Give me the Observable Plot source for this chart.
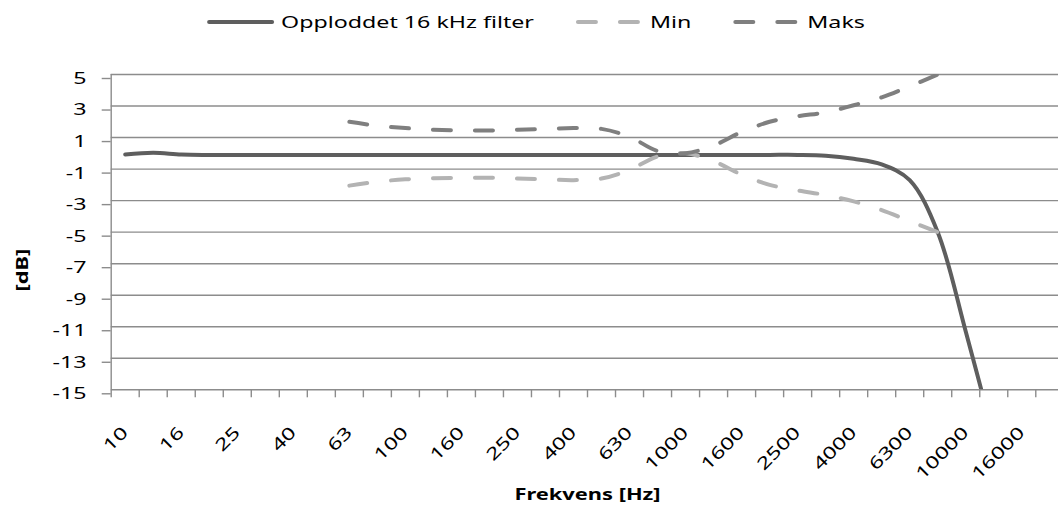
<!DOCTYPE html>
<html>
<head>
<meta charset="utf-8">
<script src="https://cdn.jsdelivr.net/npm/d3@7"></script>
<script src="https://cdn.jsdelivr.net/npm/@observablehq/plot@0.6"></script>
<style>
  html, body { margin: 0; padding: 0; background: #fff; overflow: hidden; width: 1058px; height: 509px; }
  svg { display: block; }
</style>
</head>
<body>
<div id="root"></div>
<script>
// ---- data ----
const freqLabels = ["10","12.5","16","20","25","31.5","40","50","63","80","100","125","160","200","250","315","400","500","630","800","1000","1250","1600","2000","2500","3150","4000","5000","6300","8000","10000","12500","16000","20000"];
const tickLabels = ["10","16","25","40","63","100","160","250","400","630","1000","1600","2500","4000","6300","10000","16000"];
const yTicks = [-15,-13,-11,-9,-7,-5,-3,-1,1,3,5];
const seriesNames = ["Opploddet 16 kHz filter", "Min", "Maks"];
const filterDb = [-0.08,0.03,-0.08,-0.1,-0.1,-0.1,-0.1,-0.1,-0.1,-0.1,-0.1,-0.1,-0.1,-0.1,-0.1,-0.1,-0.1,-0.1,-0.1,-0.1,-0.1,-0.1,-0.1,-0.1,-0.1,-0.15,-0.35,-0.7,-1.7,-5.0,-11.3,-18.0,null,null];
const minDb = [null,null,null,null,null,null,null,null,-2.05,-1.8,-1.65,-1.58,-1.55,-1.55,-1.6,-1.65,-1.7,-1.6,-1.05,-0.2,0,-0.5,-1.35,-2.0,-2.35,-2.65,-3.05,-3.6,-4.3,-5.0,null,null,null,null];
const maxDb = [null,null,null,null,null,null,null,null,2.0,1.75,1.6,1.5,1.45,1.45,1.5,1.55,1.6,1.55,1.05,0.15,0,0.5,1.35,2.0,2.35,2.6,3.05,3.55,4.25,5.0,null,null,null,null];

// ---- styles ----
const FONT = "'Noto Sans', 'Open Sans', sans-serif";
const K = 1.365; // horizontal text stretch
const FS = 17;
const GRID = "#8c8c8c";
const styles = [
  {name: seriesNames[0], values: filterDb, color: "#5e5e5e", dash: null},
  {name: seriesNames[1], values: minDb, color: "#b3b3b3", dash: "18,24"},
  {name: seriesNames[2], values: maxDb, color: "#7f7f7f", dash: "18,24"}
];

// stretch text along its own direction, keeping its anchor in place
function stretch(root, k) {
  root.querySelectorAll("text").forEach(t => {
    const w = t.getComputedTextLength();
    if (!(w > 0)) return;
    const b0 = t.getBBox();
    t.setAttribute("textLength", (w * k).toFixed(2));
    t.setAttribute("lengthAdjust", "spacingAndGlyphs");
    const b1 = t.getBBox();
    const anchor = getComputedStyle(t).textAnchor;
    let shift;
    if (anchor === "end") shift = (b0.x + b0.width) - (b1.x + b1.width);
    else if (anchor === "middle") shift = (b0.x + b0.width / 2) - (b1.x + b1.width / 2);
    else shift = b0.x - b1.x;
    if (Math.abs(shift) > 0.01) t.setAttribute("dx", shift.toFixed(2));
  });
}

const root = document.getElementById("root");

// ---- legend (above the chart) ----
const legend = d3.select(root).append("svg").attr("width", 1058).attr("height", 40);
const lg = legend.append("g");
let cx = 0;
styles.forEach(s => {
  const sampleW = 67;
  lg.append("line")
    .attr("x1", cx + 2).attr("x2", cx + sampleW - 2).attr("y1", 22).attr("y2", 22)
    .attr("stroke", s.color).attr("stroke-width", 4)
    .attr("stroke-linecap", "round")
    .attr("stroke-dasharray", s.dash);
  const t = lg.append("text")
    .attr("x", cx + sampleW + 7).attr("y", 22).attr("dy", "0.35em")
    .attr("font-family", FONT).attr("font-size", FS).attr("fill", "#000")
    .text(s.name);
  const w = t.node().getComputedTextLength();
  t.attr("textLength", (w * K).toFixed(2)).attr("lengthAdjust", "spacingAndGlyphs");
  cx += sampleW + 7 + w * K + 42;
});
const totalW = cx - 42;
lg.attr("transform", `translate(${(536 - totalW / 2).toFixed(1)},0)`);

// ---- chart ----
const idx = freqLabels.map((f, i) => i);
const boundaries = d3.range(freqLabels.length + 1).map(i => i - 0.5);
const labelIdx = tickLabels.map(l => freqLabels.indexOf(l));

const lineMarks = styles.map(s => Plot.line(idx, {
  x: i => i,
  y: i => s.values[i],
  curve: "catmull-rom",
  stroke: s.color,
  strokeWidth: 4,
  strokeDasharray: s.dash || undefined,
  strokeLinecap: "round",
  clip: true
}));

const chart = Plot.plot({
  width: 1058,
  height: 469,
  marginLeft: 110.7,
  marginRight: -5.3,
  marginTop: 34,
  marginBottom: 119.7,
  style: {fontFamily: FONT, fontSize: FS + "px", color: "#000", background: "#fff", overflow: "visible", maxWidth: "none"},
  x: {type: "linear", domain: [-0.5, freqLabels.length - 0.5], axis: null},
  y: {domain: [-15, 5], axis: null},
  marks: [
    Plot.gridY(yTicks, {stroke: GRID, strokeOpacity: 1, strokeWidth: 1.4}),
    Plot.ruleX([-0.5], {stroke: GRID, strokeWidth: 1.4}),
    ...lineMarks,
    Plot.axisY(yTicks, {tickSize: 9, tickPadding: 15.7, tickFormat: d => String(d), stroke: GRID, strokeWidth: 1.4, fill: "#000", label: null, dy: 4, fontSize: FS}),
    Plot.axisX(boundaries, {tickSize: 8, tickFormat: () => "", stroke: GRID, strokeWidth: 1.4, label: null}),
    Plot.axisX(labelIdx, {tickSize: 0, tickPadding: 40, tickRotate: -45, textAnchor: "end", lineAnchor: "middle", tickFormat: i => freqLabels[i], fill: "#000", label: null, fontSize: FS}),
    Plot.text(["[dB]"], {text: d => d, frameAnchor: "left", dx: -88, dy: 38, rotate: -90, textAnchor: "middle", lineAnchor: "middle", fontWeight: "bold", fontSize: 16, fill: "#000"}),
    Plot.text(["Frekvens [Hz]"], {text: d => d, frameAnchor: "bottom", dy: 105, textAnchor: "middle", lineAnchor: "middle", fontWeight: "bold", fontSize: 16, fill: "#000"})
  ]
});
root.appendChild(chart);
stretch(chart, K);
</script>
</body>
</html>
